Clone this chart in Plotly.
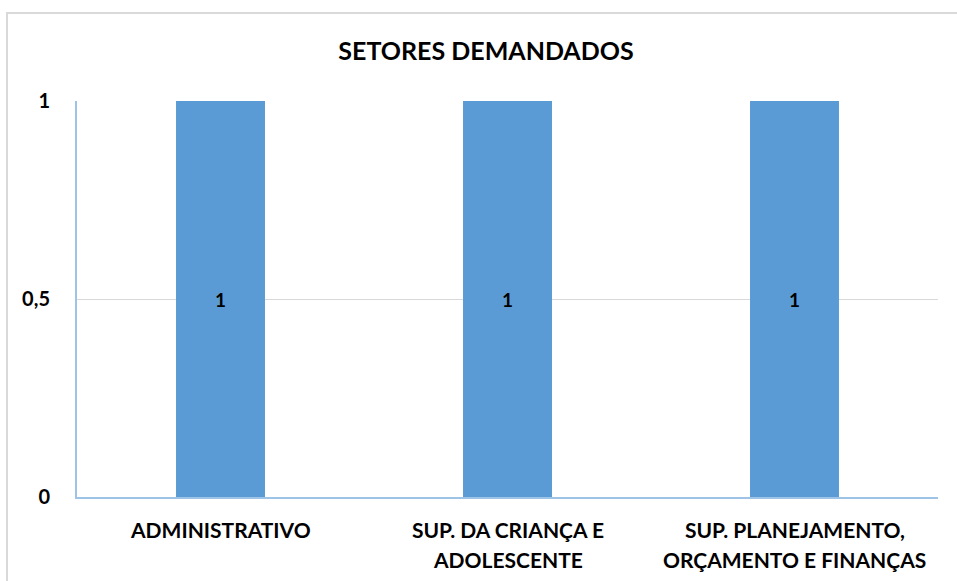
import plotly.graph_objects as go

categories = ["ADMINISTRATIVO", "SUP. DA CRIANÇA E ADOLESCENTE", "SUP. PLANEJAMENTO, ORÇAMENTO E FINANÇAS"]
label_lines = [["ADMINISTRATIVO"], ["SUP. DA CRIANÇA E", "ADOLESCENTE"], ["SUP. PLANEJAMENTO,", "ORÇAMENTO E FINANÇAS"]]
values = [1, 1, 1]
y_ticks = [0, 0.5, 1]
y_tick_labels = ["0", "0,5", "1"]
title_text = "SETORES DEMANDADOS"

W, H = 957, 581
ML, MR, MT, MB = 77, 19, 101, 84
PW, PH = W - ML - MR, H - MT - MB
FONT = "Lato"

fig = go.Figure(go.Bar(
    x=categories, y=values,
    marker=dict(color="#5B9BD5", line=dict(width=0)),
    text=[str(v) for v in values], textposition="inside", insidetextanchor="middle",
    textfont=dict(family=FONT, size=19, color="black", weight="bold"),
    width=0.31,
))

annotations = []
for cat, lines in zip(categories, label_lines):
    for i, ln in enumerate(lines):
        annotations.append(dict(
            x=cat, xref="x", y=0, yref="paper", yanchor="middle", yshift=-(32 + 30 * i),
            text=ln, showarrow=False,
            font=dict(family=FONT, size=21, color="black", weight="bold"),
        ))

def px_x(p):
    return (p - ML) / PW

def px_y(p):
    return (H - MB - p) / PH

fig.update_layout(
    width=W, height=H,
    margin=dict(l=ML, r=MR, t=MT, b=MB),
    paper_bgcolor="white", plot_bgcolor="white",
    showlegend=False,
    title=dict(text=title_text, x=486 / W, xref="container", xanchor="center",
               y=1 - 51 / H, yref="container", yanchor="middle",
               font=dict(family=FONT, size=25, color="black", weight="bold")),
    xaxis=dict(showticklabels=False, showgrid=False, showline=True, linecolor="#9DC3E6",
               linewidth=2, ticks="", zeroline=False, range=[-0.5, 2.5]),
    yaxis=dict(range=[0, 1], tickvals=y_ticks, ticktext=y_tick_labels,
               showgrid=True, gridcolor="#D9D9D9", gridwidth=1,
               showline=True, linecolor="#9DC3E6", linewidth=2, zeroline=False,
               ticks="", ticklabelstandoff=21,
               tickfont=dict(family=FONT, size=20, color="black", weight="bold")),
    annotations=annotations,
    shapes=[dict(type="rect", xref="paper", yref="paper",
                 x0=px_x(7), x1=px_x(975), y0=px_y(600), y1=px_y(13),
                 line=dict(color="#D9D9D9", width=2), fillcolor="rgba(0,0,0,0)", layer="below")],
)

fig.write_html("out.html", config={"displayModeBar": False},
               post_script="document.body.style.margin='0px';")
